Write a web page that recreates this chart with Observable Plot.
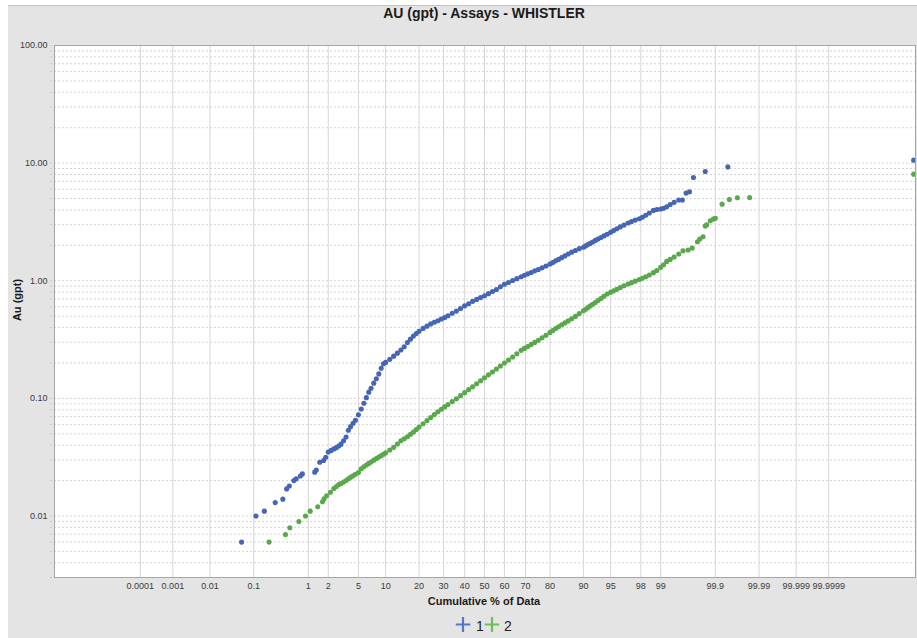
<!DOCTYPE html>
<html>
<head>
<meta charset="utf-8">
<script src="https://cdn.jsdelivr.net/npm/d3@7"></script>
<script src="https://cdn.jsdelivr.net/npm/@observablehq/plot@0.6"></script>
<style>
  html, body { margin: 0; padding: 0; background: #ffffff; }
  #wrap { position: relative; width: 917px; height: 638px; overflow: hidden; font-family: "Liberation Sans", Arial, sans-serif; }
  #bg { position: absolute; left: 8px; top: 5px; right: 0; bottom: 0; background: #e4e4e4; border-top: 1px solid #c4c4c4; }
  #chart { position: absolute; left: 0; top: 0; }
  .lbl { position: absolute; color: #1a1a1a; white-space: nowrap; }
  #title { left: 284px; width: 400px; top: 5px; text-align: center; font-weight: bold; font-size: 14px; line-height: 16px; }
  #ylab { left: 17px; top: 300px; transform: translate(-50%, -50%) rotate(-90deg); font-weight: bold; font-size: 11px; }
  #xlab { left: 484px; top: 601px; transform: translate(-50%, -50%); font-weight: bold; font-size: 11px; }
  .leg { position: absolute; top: 626px; transform: translate(-50%, -50%); font-size: 14px; color: #222; }
</style>
</head>
<body>
<div id="wrap">
  <div id="bg"></div>
  <div id="chart"></div>
  <div class="lbl" id="title">AU (gpt) - Assays - WHISTLER</div>
  <div class="lbl" id="ylab">Au (gpt)</div>
  <div class="lbl" id="xlab">Cumulative % of Data</div>
  <div class="leg" style="left:463px"><svg width="15" height="15"><line x1="0" y1="7.5" x2="15" y2="7.5" stroke="#5477cc" stroke-width="2.2"/><line x1="7.5" y1="0" x2="7.5" y2="15" stroke="#5477cc" stroke-width="2.2"/></svg></div>
  <div class="leg" style="left:480px">1</div>
  <div class="leg" style="left:492px"><svg width="15" height="15"><line x1="0" y1="7.5" x2="15" y2="7.5" stroke="#6cbf59" stroke-width="2.2"/><line x1="7.5" y1="0" x2="7.5" y2="15" stroke="#6cbf59" stroke-width="2.2"/></svg></div>
  <div class="leg" style="left:508px">2</div>
</div>
<script>
// ---------- data ----------
const seriesNames = ["1", "2"];
const seriesColors = ["#4666b5", "#5aa84c"];

// shared cumulative-% positions for the dense body of both curves
const pctGrid = [2.4, 2.6, 2.8, 3, 3.25, 3.5, 3.75, 4, 4.3, 4.6, 5, 5.4, 5.8, 6.2, 6.6, 7, 7.5, 8, 8.5, 9, 9.5, 10,
  11, 12, 13, 14, 15, 16, 17, 18, 19, 20, 21.5, 23, 24.5, 26, 27.5, 29, 30.5, 32, 34, 36, 38, 40, 42, 44, 46, 48, 50,
  52, 54, 56, 58, 60, 62, 64, 66, 68, 69.5, 71, 72.5, 74, 75.5, 77, 78.5, 80, 81, 82, 83, 84, 85, 86, 87, 88, 89, 90,
  90.5, 91, 91.5, 92, 92.5, 93, 93.5, 94, 94.5, 95, 95.4, 95.8, 96.2, 96.6, 97, 97.3, 97.6, 97.9, 98.1, 98.3, 98.5,
  98.7, 98.85, 99, 99.1, 99.2, 99.3, 99.4, 99.5];

// series 1 (blue)
const blueAu = [0.0372, 0.0381, 0.0394, 0.0408, 0.0436, 0.0470, 0.0535, 0.0575, 0.0614, 0.0652,
  0.0725, 0.0813, 0.0908, 0.1014, 0.113, 0.122, 0.1347, 0.147, 0.1614, 0.1803,
  0.1965, 0.2023, 0.2146, 0.2285, 0.2423, 0.2575, 0.2746, 0.2986, 0.3187, 0.3385,
  0.3554, 0.3717, 0.3934, 0.411, 0.4296, 0.4434, 0.4573, 0.472, 0.486, 0.5045,
  0.5286, 0.552, 0.5806, 0.612, 0.638, 0.668, 0.694, 0.7187, 0.746, 0.777,
  0.8096, 0.842, 0.889, 0.934, 0.967, 1.004, 1.042, 1.081, 1.113, 1.145,
  1.176, 1.214, 1.245, 1.289, 1.336, 1.389, 1.427, 1.476, 1.519, 1.571,
  1.627, 1.686, 1.750, 1.808, 1.874, 1.925, 1.979, 2.030, 2.078, 2.138,
  2.203, 2.265, 2.333, 2.405, 2.488, 2.582, 2.669, 2.770, 2.870, 2.972,
  3.097, 3.184, 3.278, 3.368, 3.467, 3.606, 3.765, 3.962, 4.03, 4.07,
  4.136, 4.26, 4.454, 4.642, 4.864];
const blueLowPct = [0.055, 0.111, 0.164, 0.266, 0.368, 0.43, 0.48, 0.575, 0.63, 0.74, 0.80, 1.26, 1.33, 1.5, 1.71, 1.84, 2, 2.2];
const blueLowAu  = [0.0060, 0.0100, 0.0110, 0.0130, 0.0139, 0.0170, 0.0180, 0.0200, 0.0207, 0.0219, 0.0228, 0.0236, 0.0246, 0.0286, 0.0296, 0.0316, 0.0350, 0.0361];
const blueHighPct = [99.57, 99.63, 99.68, 99.73, 99.84, 99.946, 99.99999994];
const blueHighAu  = [4.85, 5.56, 5.70, 7.54, 8.48, 9.29, 10.6];

// series 2 (green)
const greenAu = [0.01712, 0.01784, 0.01851, 0.01891, 0.01944, 0.02006, 0.0207, 0.0213, 0.02195, 0.0226,
  0.02346, 0.02521, 0.02621, 0.0271, 0.02799, 0.02881, 0.02985, 0.03078, 0.0317, 0.03258,
  0.0335, 0.03443, 0.03635, 0.03833, 0.04088, 0.04359, 0.04533, 0.04714, 0.04943, 0.05166,
  0.05425, 0.0570, 0.0609, 0.06471, 0.06862, 0.07278, 0.07703, 0.08091, 0.08462, 0.08851,
  0.09386, 0.09931, 0.1055, 0.1119, 0.1187, 0.1256, 0.1332, 0.141, 0.1494, 0.1585,
  0.1677, 0.1779, 0.1886, 0.1996, 0.2117, 0.2249, 0.2394, 0.2559, 0.2661, 0.2762,
  0.2877, 0.2992, 0.3119, 0.3274, 0.3444, 0.3639, 0.3776, 0.3926, 0.4068, 0.422,
  0.4381, 0.4556, 0.4747, 0.4975, 0.5255, 0.5561, 0.5727, 0.5908, 0.6109, 0.6315,
  0.6541, 0.6789, 0.706, 0.7371, 0.7709, 0.797, 0.8208, 0.8452, 0.8772, 0.9067,
  0.9375, 0.9635, 0.9922, 1.026, 1.05, 1.083, 1.12, 1.172, 1.223, 1.30,
  1.367, 1.461, 1.519, 1.59, 1.686];
const greenLowPct = [0.203, 0.41, 0.49, 0.70, 0.90, 1.07, 1.4, 1.65, 1.74, 1.9, 2.15];
const greenLowAu  = [0.0060, 0.00697, 0.00794, 0.00898, 0.0100, 0.0110, 0.01197, 0.0132, 0.0140, 0.01487, 0.0159];
const greenHighPct = [99.58, 99.66, 99.715, 99.773, 99.795, 99.823, 99.84, 99.85, 99.873, 99.89, 99.90, 99.928, 99.95, 99.967, 99.983, 99.99999994];
const greenHighAu  = [1.798, 1.823, 1.895, 2.144, 2.26, 2.364, 2.914, 2.989, 3.233, 3.342, 3.395, 4.48, 4.90, 5.07, 5.10, 8.06];

// axis ticks
const xTickPct = [0.0001, 0.001, 0.01, 0.1, 1, 2, 5, 10, 20, 30, 40, 50, 60, 70, 80, 90, 95, 98, 99, 99.9, 99.99, 99.999, 99.9999];
const xTickLabels = ["0.0001", "0.001", "0.01", "0.1", "1", "2", "5", "10", "20", "30", "40", "50", "60", "70", "80", "90", "95", "98", "99", "99.9", "99.99", "99.999", "99.9999"];
const yTickVals = [0.01, 0.1, 1, 10, 100];
const yTickLabels = ["0.01", "0.10", "1.00", "10.00", "100.00"];
const yDecades = [0.001, 0.01, 0.1, 1, 10];
const yMultipliers = [1, 2, 3, 4, 5, 6, 7, 8, 9, 10];

// ---------- probability scale helper ----------
function probit(p) {
  const a = [-3.969683028665376e+01, 2.209460984245205e+02, -2.759285104469687e+02, 1.383577518672690e+02, -3.066479806614716e+01, 2.506628277459239e+00];
  const b = [-5.447609879822406e+01, 1.615858368580409e+02, -1.556989798598866e+02, 6.680131188771972e+01, -1.328068155288572e+01];
  const c = [-7.784894002430293e-03, -3.223964580411365e-01, -2.400758277161838e+00, -2.549732539343734e+00, 4.374664141464968e+00, 2.938163982698783e+00];
  const d = [7.784695709041462e-03, 3.224671290700398e-01, 2.445134137142996e+00, 3.754408661907416e+00];
  const pl = 0.02425, ph = 1 - pl;
  if (p < pl) {
    const q = Math.sqrt(-2 * Math.log(p));
    return (((((c[0]*q+c[1])*q+c[2])*q+c[3])*q+c[4])*q+c[5]) / ((((d[0]*q+d[1])*q+d[2])*q+d[3])*q+1);
  }
  if (p <= ph) {
    const q = p - 0.5, r = q * q;
    return (((((a[0]*r+a[1])*r+a[2])*r+a[3])*r+a[4])*r+a[5])*q / (((((b[0]*r+b[1])*r+b[2])*r+b[3])*r+b[4])*r+1);
  }
  const q = Math.sqrt(-2 * Math.log(1 - p));
  return -(((((c[0]*q+c[1])*q+c[2])*q+c[3])*q+c[4])*q+c[5]) / ((((d[0]*q+d[1])*q+d[2])*q+d[3])*q+1);
}
// normal-probability axis position (slightly compressed in the tails, as in the original software)
function pos(pct) {
  const z = probit(pct / 100);
  return z * (1 - 0.01737 * Math.abs(z));
}

// ---------- build tables ----------
function build(series, lowP, lowV, vals, highP, highV) {
  const rows = [];
  lowP.forEach((p, i) => rows.push({series, p, au: lowV[i]}));
  pctGrid.forEach((p, i) => rows.push({series, p, au: vals[i]}));
  highP.forEach((p, i) => rows.push({series, p, au: highV[i]}));
  return rows;
}
const blueData = build(seriesNames[0], blueLowPct, blueLowAu, blueAu, blueHighPct, blueHighAu);
const greenData = build(seriesNames[1], greenLowPct, greenLowAu, greenAu, greenHighPct, greenHighAu);

const yGrid = [];
yDecades.forEach(dd => yMultipliers.forEach(m => {
  const v = +(dd * m).toPrecision(6);
  if (v >= 0.003 && v <= 100 && !yGrid.includes(v)) yGrid.push(v);
}));

const xDomain = [-5.449, 5.461];

const chart = Plot.plot({
  width: 917,
  height: 638,
  marginLeft: 54,
  marginRight: 2,
  marginTop: 45,
  marginBottom: 61,
  style: {background: "transparent", fontFamily: "'Liberation Sans', Arial, sans-serif"},
  x: {type: "linear", domain: xDomain, axis: null},
  y: {type: "log", domain: [0.003, 100], axis: null},
  marks: [
    Plot.frame({fill: "#ffffff", stroke: "none"}),
    Plot.ruleY(yGrid, {y: d => d, x1: xDomain[0] - 0.05, x2: xDomain[1], stroke: "#c4c4c4", strokeOpacity: 0.75, strokeDasharray: "2,2", strokeWidth: 1}),
    Plot.ruleX(xTickPct, {x: d => pos(d), stroke: "#d6d6d6", strokeWidth: 1}),
    Plot.dot(greenData, {x: d => pos(d.p), y: "au", r: 2.55, fill: seriesColors[1], stroke: "none"}),
    Plot.dot(blueData, {x: d => pos(d.p), y: "au", r: 2.55, fill: seriesColors[0], stroke: "none"}),
    Plot.text(xTickPct, {x: d => pos(d), text: (d, i) => xTickLabels[i], frameAnchor: "bottom", dy: 11, fontSize: 9, fill: "#3a3a3a"}),
    Plot.text(yTickVals, {y: d => d, text: (d, i) => yTickLabels[i], frameAnchor: "left", textAnchor: "end", dx: -7, fontSize: 9, fill: "#3a3a3a"}),
    Plot.frame({stroke: "#a6a6a6", strokeWidth: 1})
  ]
});
document.getElementById("chart").appendChild(chart);
</script>
</body>
</html>
